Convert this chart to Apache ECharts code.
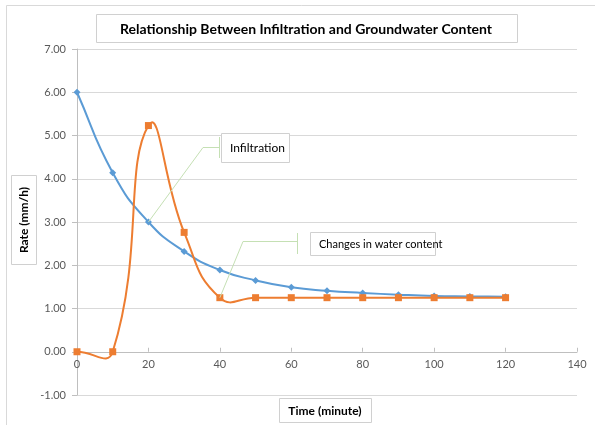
<!DOCTYPE html>
<html>
<head>
<meta charset="utf-8">
<script src="https://cdn.jsdelivr.net/npm/echarts@6/dist/echarts.min.js"></script>
<style>
html,body{margin:0;padding:0;background:#fff;}
#chart{width:595px;height:425px;}
</style>
</head>
<body>
<div id="chart"></div>
<script>
// ---- data ----
const timeMinutes = [0, 10, 20, 30, 40, 50, 60, 70, 80, 90, 100, 110, 120];
const infiltration = [6.00, 4.14, 3.00, 2.32, 1.89, 1.65, 1.49, 1.41, 1.36, 1.32, 1.29, 1.28, 1.27];
const waterContentChange = [0.00, 0.00, 5.23, 2.76, 1.25, 1.25, 1.25, 1.25, 1.25, 1.25, 1.25, 1.25, 1.25];
const xTicks = [0, 20, 40, 60, 80, 100, 120, 140];
const yTicks = [-1, 0, 1, 2, 3, 4, 5, 6, 7];
const titleText = 'Relationship Between Infiltration and Groundwater Content';
const xTitle = 'Time (minute)';
const yTitle = 'Rate (mm/h)';
const seriesNames = ['Infiltration', 'Changes in water content'];

const FONT = 'Lato, "Open Sans", sans-serif';
const BLUE = '#5b9bd5';
const ORANGE = '#ed7d31';
const GRID = '#d9d9d9';
const CALLOUT = '#c5e0b4';

const chart = echarts.init(document.getElementById('chart'), null, {renderer: 'canvas'});

const pair = (xs, ys) => xs.map((x, i) => [x, ys[i]]);

// Spreadsheet-style smoothed curve, computed in pixel space from api.coord
function smoothRenderer(xs, ys, color) {
  return function (params, api) {
    if (params.dataIndex !== 0) return null;
    const P = xs.map((x, i) => api.coord([x, ys[i]]));
    const n = P.length;
    const s = 0.5;
    const dist = (a, b) => Math.hypot(b[0] - a[0], b[1] - a[1]);
    const cpIn = [], cpOut = [];
    for (let i = 0; i < n; i++) {
      const prev = P[Math.max(0, i - 1)], next = P[Math.min(n - 1, i + 1)];
      const dPrev = dist(prev, P[i]), dNext = dist(P[i], next);
      const sum = dPrev + dNext || 1;
      const tx = next[0] - prev[0], ty = next[1] - prev[1];
      cpIn[i] = [P[i][0] - tx * s * dPrev / sum, P[i][1] - ty * s * dPrev / sum];
      cpOut[i] = [P[i][0] + tx * s * dNext / sum, P[i][1] + ty * s * dNext / sum];
    }
    let d = 'M' + P[0][0] + ' ' + P[0][1];
    for (let i = 0; i < n - 1; i++) {
      d += ' C' + cpOut[i][0] + ' ' + cpOut[i][1] + ' ' + cpIn[i + 1][0] + ' ' + cpIn[i + 1][1] + ' ' + P[i + 1][0] + ' ' + P[i + 1][1];
    }
    return {
      type: 'path',
      shape: {pathData: d},
      style: {fill: null, stroke: color, lineWidth: 2, lineJoin: 'round'},
      silent: true
    };
  };
}

const option = {
  animation: false,
  backgroundColor: '#fff',
  grid: {left: 77, right: 18, top: 49, bottom: 30, containLabel: false},
  xAxis: {
    type: 'value',
    min: xTicks[0], max: xTicks[xTicks.length - 1], interval: 20,
    axisLine: {show: true, onZero: false, lineStyle: {color: '#bfbfbf', width: 1}},
    axisTick: {show: true, inside: true, length: 4, lineStyle: {color: '#bfbfbf'}},
    axisLabel: {color: '#595959', fontFamily: FONT, fontSize: 11, margin: 7},
    splitLine: {show: false}
  },
  yAxis: {
    type: 'value',
    min: yTicks[0], max: yTicks[yTicks.length - 1], interval: 1,
    axisLine: {show: true, lineStyle: {color: '#bfbfbf', width: 1}},
    axisTick: {show: true, length: 5, lineStyle: {color: '#bfbfbf'}},
    axisLabel: {color: '#595959', fontFamily: FONT, fontSize: 11, margin: 11,
      formatter: v => v.toFixed(2)},
    splitLine: {show: true, lineStyle: {color: GRID, width: 1}}
  },
  series: [
    {
      name: seriesNames[0] + ' curve', type: 'custom',
      data: pair(timeMinutes, infiltration), encode: {x: 0, y: 1},
      renderItem: smoothRenderer(timeMinutes, infiltration, BLUE), z: 3
    },
    {
      name: seriesNames[1] + ' curve', type: 'custom',
      data: pair(timeMinutes, waterContentChange), encode: {x: 0, y: 1},
      renderItem: smoothRenderer(timeMinutes, waterContentChange, ORANGE), z: 4
    },
    {
      name: seriesNames[0], type: 'line',
      data: pair(timeMinutes, infiltration),
      symbol: 'diamond', symbolSize: 7,
      lineStyle: {width: 0, opacity: 0},
      itemStyle: {color: BLUE},
      z: 5
    },
    {
      name: seriesNames[1], type: 'line',
      data: pair(timeMinutes, waterContentChange),
      symbol: 'rect', symbolSize: 7,
      lineStyle: {width: 0, opacity: 0},
      itemStyle: {color: ORANGE},
      z: 6
    }
  ]
};
chart.setOption(option);

// place the x axis on y = 0 using the library's own scale
const y0 = chart.convertToPixel({yAxisIndex: 0}, 0);
const yMin = chart.convertToPixel({yAxisIndex: 0}, yTicks[0]);
chart.setOption({xAxis: {offset: -(yMin - y0)}});

// Annotation boxes anchored to data points via the library's coordinate system
const pInf = chart.convertToPixel({gridIndex: 0}, [timeMinutes[2], infiltration[2]]);
const pWat = chart.convertToPixel({gridIndex: 0}, [timeMinutes[4], waterContentChange[4]]);

const boxStyle = {fill: '#fff', stroke: '#d0d0d0', lineWidth: 1};
const textStyleBold = (txt, size) => ({text: txt, fill: '#000', font: 'bold ' + size + 'px ' + FONT, align: 'center', verticalAlign: 'middle'});

chart.setOption({
  graphic: [
    {type: 'rect', shape: {x: 6.5, y: 5.5, width: 600, height: 430}, style: {fill: null, stroke: '#d9d9d9', lineWidth: 1}, z: -10, silent: true},
    {type: 'rect', shape: {x: 96.5, y: 14.5, width: 421, height: 28}, style: boxStyle, z: 10},
    {type: 'text', x: 306, y: 29, style: textStyleBold(titleText, 14), z: 11},
    {type: 'rect', shape: {x: 11.5, y: 175.5, width: 25, height: 89}, style: boxStyle, z: 10},
    {type: 'text', x: 24, y: 220, rotation: Math.PI / 2, style: textStyleBold(yTitle, 12), z: 11},
    {type: 'rect', shape: {x: 279.5, y: 398.5, width: 92, height: 24}, style: boxStyle, z: 10},
    {type: 'text', x: 325, y: 411, style: textStyleBold(xTitle, 12), z: 11},
    {type: 'polyline', shape: {points: [pInf, [203, 147.5], [219.5, 147.5]]}, style: {stroke: CALLOUT, lineWidth: 1, fill: null}, z: 12},
    {type: 'line', shape: {x1: 219.5, y1: 137, x2: 219.5, y2: 158}, style: {stroke: CALLOUT, lineWidth: 1}, z: 12},
    {type: 'rect', shape: {x: 221.5, y: 133.5, width: 68, height: 29}, style: boxStyle, z: 10},
    {type: 'text', x: 230, y: 148, style: {text: seriesNames[0], fill: '#000', font: '12px ' + FONT, align: 'left', verticalAlign: 'middle'}, z: 11},
    {type: 'polyline', shape: {points: [pWat, [243, 241.5], [297.5, 241.5]]}, style: {stroke: CALLOUT, lineWidth: 1, fill: null}, z: 12},
    {type: 'line', shape: {x1: 297.5, y1: 233, x2: 297.5, y2: 254}, style: {stroke: CALLOUT, lineWidth: 1}, z: 12},
    {type: 'rect', shape: {x: 310.5, y: 232.5, width: 125, height: 23}, style: boxStyle, z: 10},
    {type: 'text', x: 319, y: 244, style: {text: seriesNames[1], fill: '#000', font: '11px ' + FONT, align: 'left', verticalAlign: 'middle'}, z: 11}
  ]
});
</script>
</body>
</html>
